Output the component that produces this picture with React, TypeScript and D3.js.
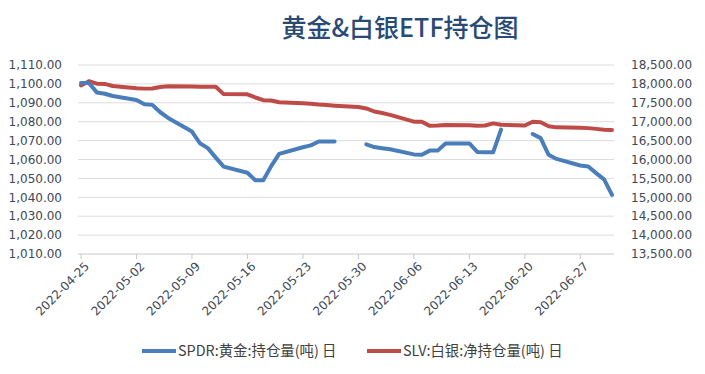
import React from 'react';
import { scaleLinear, scaleTime, line, format, range } from 'd3';

// trading days on the chart
const dates = [
    '2022-04-25', '2022-04-26', '2022-04-27', '2022-04-28', '2022-04-29',
    '2022-05-02', '2022-05-03', '2022-05-04', '2022-05-05', '2022-05-06',
    '2022-05-09', '2022-05-10', '2022-05-11', '2022-05-12', '2022-05-13',
    '2022-05-16', '2022-05-17', '2022-05-18', '2022-05-19', '2022-05-20',
    '2022-05-23', '2022-05-24', '2022-05-25', '2022-05-26', '2022-05-27',
    '2022-05-30', '2022-05-31', '2022-06-01', '2022-06-02', '2022-06-03',
    '2022-06-06', '2022-06-07', '2022-06-08', '2022-06-09', '2022-06-10',
    '2022-06-13', '2022-06-14', '2022-06-15', '2022-06-16', '2022-06-17',
    '2022-06-20', '2022-06-21', '2022-06-22', '2022-06-23', '2022-06-24',
    '2022-06-27', '2022-06-28', '2022-06-29', '2022-06-30', '2022-07-01',
];

// SPDR gold holdings (t), null = holiday gap
const spdr = [
    1100.5, 1100.5, 1095.5, 1094.8, 1093.6,
    1091.5, 1089.2, 1088.9, 1085.0, 1082.0,
    1074.8, 1068.6, 1066.0, 1061.0, 1056.2,
    1053.0, 1049.0, 1049.0, 1056.5, 1063.0,
    1066.5, 1067.5, 1069.5, 1069.5, 1069.5,
    null, 1068.0, 1066.6, 1066.0, 1065.4,
    1062.7, 1062.5, 1064.7, 1064.7, 1068.5,
    1068.5, 1064.0, 1063.8, 1063.8, 1075.8,
    null, 1073.5, 1071.3, 1062.5, 1060.3,
    1056.8, 1056.3, 1052.8, 1049.5, 1041.3,
];

// SLV silver net holdings (t)
const slv = [
    17960, 18070, 18005, 18000, 17945,
    17885, 17875, 17880, 17920, 17940,
    17930, 17925, 17925, 17925, 17730,
    17725, 17640, 17570, 17560, 17515,
    17490, 17475, 17455, 17440, 17425,
    17390, 17350, 17270, 17230, 17180,
    17000, 17000, 16890, 16900, 16915,
    16905, 16890, 16900, 16955, 16920,
    16900, 17000, 16985, 16880, 16850,
    16840, 16830, 16810, 16790, 16780,
];

const xTicks = ['2022-04-25', '2022-05-02', '2022-05-09', '2022-05-16', '2022-05-23',
    '2022-05-30', '2022-06-06', '2022-06-13', '2022-06-20', '2022-06-27'];

const title = '黄金&白银ETF持仓图';
const legendNames = ['SPDR:黄金:持仓量(吨) 日', 'SLV:白银:净持仓量(吨) 日'];
const colors = ['#4a7ebb', '#be4b48'];

const parse = (s: string) => new Date(s + 'T00:00:00');

const App = () => {
    const width = 705;
    const height = 374;
    const margin = { top: 65, right: 92, bottom: 120, left: 78 };
    const innerBottom = height - margin.bottom;
    const innerRight = width - margin.right;

    const xScale = scaleTime()
        .domain([parse('2022-04-25'), parse('2022-07-01')])
        .range([81, 612]);

    const yLeft = scaleLinear().domain([1010, 1110]).range([innerBottom, margin.top]);
    const yRight = scaleLinear().domain([13500, 18500]).range([innerBottom, margin.top]);

    const leftTicks = range(1010, 1111, 10);
    const rightTicks = range(13500, 18501, 500);
    const fmt = format(',.2f');
    const labelFont = "'DejaVu Sans', Verdana, sans-serif";
    const cjkFont = "'Noto Sans CJK SC', 'Noto Sans', sans-serif";

    const goldLine = line<number | null>()
        .defined(d => d !== null)
        .x((d, i) => xScale(parse(dates[i])))
        .y(d => yLeft(d as number));

    const silverLine = line<number>()
        .x((d, i) => xScale(parse(dates[i])))
        .y(d => yRight(d));

    return (
        <svg width={width} height={height} style={{ position: 'absolute', left: 0, top: 0, background: '#fff' }}>
            <text x={400} y={37} textAnchor="middle" fontFamily={cjkFont} fontSize={25} fontWeight={500} fill="#294a76">{title}</text>

            {leftTicks.map(t => (
                <g key={'l' + t}>
                    <line x1={margin.left} x2={innerRight + 1} y1={yLeft(t)} y2={yLeft(t)} stroke={t === 1010 ? '#c8c8c8' : '#dcdcdc'} strokeWidth={1} />
                    <text x={62} y={yLeft(t)} dy="0.35em" textAnchor="end" fontFamily={labelFont} fontSize={12} fill="#3e4856">{fmt(t)}</text>
                </g>
            ))}
            {rightTicks.map(t => (
                <text key={'r' + t} x={631} y={yRight(t)} dy="0.35em" textAnchor="start" fontFamily={labelFont} fontSize={12} fill="#3e4856">{fmt(t)}</text>
            ))}

            {xTicks.map(t => {
                const x = xScale(parse(t));
                return (
                    <g key={t} transform={`translate(${x}, ${innerBottom})`}>
                        <line y1={0} y2={5} stroke="#c8c8c8" />
                        <text transform="translate(6, 10) rotate(-45)" textAnchor="end" dy="0.35em" fontFamily={labelFont} fontSize={12} fill="#3e4856">{t}</text>
                    </g>
                );
            })}

            <path d={silverLine(slv) || ''} fill="none" stroke={colors[1]} strokeWidth={4} strokeLinejoin="round" strokeLinecap="round" />
            <path d={goldLine(spdr) || ''} fill="none" stroke={colors[0]} strokeWidth={4} strokeLinejoin="round" strokeLinecap="round" />

            {legendNames.map((name, i) => {
                const lx = i === 0 ? 142 : 367;
                return (
                    <g key={name} transform={`translate(${lx}, 351)`}>
                        <line x1={0} x2={34} y1={0} y2={0} stroke={colors[i]} strokeWidth={4} />
                        <text x={36} y={0} dy="0.35em" fontFamily={cjkFont} fontSize={14.4} fill="#404040">{name}</text>
                    </g>
                );
            })}
        </svg>
    );
};

export default App;
